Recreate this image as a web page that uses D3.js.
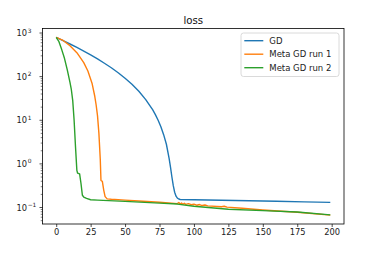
<!DOCTYPE html>
<html>
<head>
<meta charset="utf-8">
<title>loss</title>
<script src="https://cdn.jsdelivr.net/npm/d3@7"></script>
<style>
  body { margin: 0; background: #fff; overflow: hidden; }
  svg { font-family: "DejaVu Sans", sans-serif; }
</style>
</head>
<body>
<svg id="chart" width="371" height="253"></svg>
<script>
// values
const gdStep = [0, 5, 10, 15, 20, 25, 30, 35, 40, 45, 50, 55, 60, 65, 70, 72, 74, 76, 78, 80, 82, 83, 84, 85, 86, 87, 88, 89, 90, 100, 120, 140, 160, 180, 199];
const gdLoss = [794, 668, 560, 466, 385, 315, 255, 203, 160, 123, 92.0, 66.7, 46.1, 29.8, 17.5, 13.5, 10.0, 7.08, 4.68, 2.82, 1.32, 0.832, 0.501, 0.316, 0.224, 0.182, 0.164, 0.157, 0.153, 0.151, 0.147, 0.143, 0.139, 0.135, 0.131];

const run1Step = [0, 5, 10, 15, 20, 23, 26, 28, 29, 30, 31, 32, 32.5, 33.5, 34.5, 35.5, 37, 40, 50, 60, 75, 88, 89, 90, 91, 92, 93, 94, 96, 98, 100, 102, 104, 106, 108, 110, 120, 122, 124, 135, 150, 175, 199];
const run1Loss = [794, 676, 513, 355, 209, 135, 70.8, 35.5, 22.4, 12.6, 5.0, 1.26, 0.417, 0.398, 0.251, 0.178, 0.158, 0.155, 0.148, 0.141, 0.132, 0.123, 0.13, 0.12, 0.127, 0.119, 0.125, 0.118, 0.123, 0.116, 0.119, 0.113, 0.117, 0.111, 0.114, 0.109, 0.104, 0.107, 0.102, 0.096, 0.088, 0.078, 0.067];

const run2Step = [0, 2, 4, 6, 8, 10, 11, 12, 13, 14, 15, 15.5, 17, 18, 19, 20, 22, 25, 30, 50, 75, 88, 100, 125, 150, 175, 199];
const run2Loss = [794, 631, 417, 263, 145, 74.1, 50.1, 28.2, 10, 2.51, 0.708, 0.617, 0.589, 0.355, 0.191, 0.174, 0.162, 0.151, 0.148, 0.138, 0.126, 0.12, 0.107, 0.091, 0.085, 0.079, 0.068];

const seriesNames = ["GD", "Meta GD run 1", "Meta GD run 2"];
const colors = ["#1f77b4", "#ff7f0e", "#2ca02c"];
const xTicks = [0, 25, 50, 75, 100, 125, 150, 175, 200];
const yTickExp = [-1, 0, 1, 2, 3];

const series = [
  { name: seriesNames[0], color: colors[0], pts: gdStep.map((s, i) => [s, gdLoss[i]]) },
  { name: seriesNames[1], color: colors[1], pts: run1Step.map((s, i) => [s, run1Loss[i]]) },
  { name: seriesNames[2], color: colors[2], pts: run2Step.map((s, i) => [s, run2Loss[i]]) }
];

const svg = d3.select('#chart');
const plotLeft = 42.5, plotRight = 344, plotTop = 28.5, plotBottom = 224;

// matplotlib style 5% margins
const allX = series.flatMap(s => s.pts.map(p => p[0]));
const allY = series.flatMap(s => s.pts.map(p => Math.log10(p[1])));
const xMin = d3.min(allX), xMax = d3.max(allX);
const xPad = (xMax - xMin) * 0.05;
const lMin = d3.min(allY), lMax = d3.max(allY);
const lPad = (lMax - lMin) * 0.05;

const x = d3.scaleLinear().domain([xMin - xPad, xMax + xPad]).range([plotLeft, plotRight]);
const y = d3.scaleLog().domain([Math.pow(10, lMin - lPad), Math.pow(10, lMax + lPad)]).range([plotBottom, plotTop]);

// title
svg.append('text')
  .attr('x', (plotLeft + plotRight) / 2)
  .attr('y', 23.5)
  .attr('text-anchor', 'middle')
  .attr('font-size', '10.2px')
  .attr('fill', '#111')
  .text('loss');

const plot = svg.append('g');
plot.append('clipPath').attr('id', 'clip')
  .append('rect').attr('x', plotLeft).attr('y', plotTop).attr('width', plotRight - plotLeft).attr('height', plotBottom - plotTop);

const line = d3.line().x(d => x(d[0])).y(d => y(d[1]));

plot.append('g').attr('clip-path', 'url(#clip)')
  .selectAll('path')
  .data(series)
  .enter()
  .append('path')
  .attr('d', s => line(s.pts))
  .attr('fill', 'none')
  .attr('stroke', s => s.color)
  .attr('stroke-width', 1.4)
  .attr('stroke-linejoin', 'round');

// x axis
const xAxis = svg.append('g').attr('transform', `translate(0,${plotBottom})`)
  .call(d3.axisBottom(x).tickValues(xTicks).tickSize(3).tickPadding(2.5).tickFormat(d3.format('d')));
xAxis.select('.domain').remove();
xAxis.selectAll('line').attr('stroke', '#000').attr('stroke-width', 0.7);
xAxis.selectAll('text').attr('font-size', '8.3px').attr('fill', '#222').attr('font-family', '"DejaVu Sans", sans-serif');

// y axis: minor ticks
const [d0, d1] = y.domain();
const minor = [];
for (let e = Math.floor(Math.log10(d0)); e <= Math.ceil(Math.log10(d1)); e++) {
  for (let m = 2; m <= 9; m++) {
    const v = m * Math.pow(10, e);
    if (v >= d0 && v <= d1) minor.push(v);
  }
}
svg.append('g').selectAll('line').data(minor).enter().append('line')
  .attr('x1', plotLeft - 1.8).attr('x2', plotLeft)
  .attr('y1', d => y(d)).attr('y2', d => y(d))
  .attr('stroke', '#000').attr('stroke-width', 0.5);

svg.append('g').selectAll('line').data(yTickExp).enter().append('line')
  .attr('x1', plotLeft - 3).attr('x2', plotLeft)
  .attr('y1', d => y(Math.pow(10, d))).attr('y2', d => y(Math.pow(10, d)))
  .attr('stroke', '#000').attr('stroke-width', 0.7);

const yLab = svg.append('g').selectAll('text').data(yTickExp).enter().append('text')
  .attr('x', 16.5)
  .attr('y', d => y(Math.pow(10, d)) + 3.2)
  .attr('font-size', '8.3px')
  .attr('fill', '#222');
yLab.append('tspan').text('10');
yLab.append('tspan')
  .attr('dy', -3.6)
  .attr('dx', 0.6)
  .attr('font-size', '5.9px')
  .text(d => d < 0 ? '\u2212' + (-d) : String(d));

// spines
svg.append('rect')
  .attr('x', plotLeft).attr('y', plotTop)
  .attr('width', plotRight - plotLeft).attr('height', plotBottom - plotTop)
  .attr('fill', 'none').attr('stroke', '#000').attr('stroke-width', 0.8);

// legend
const lg = svg.append('g').attr('transform', 'translate(241,33)');
lg.append('rect')
  .attr('width', 98).attr('height', 43.5)
  .attr('rx', 2.5)
  .attr('fill', 'rgba(255,255,255,0.8)')
  .attr('stroke', '#d0d0d0').attr('stroke-width', 0.8);
const item = lg.selectAll('g.item').data(series).enter().append('g')
  .attr('class', 'item')
  .attr('transform', (d, i) => `translate(0,${7.7 + i * 13.5})`);
item.append('line')
  .attr('x1', 3.3).attr('x2', 22.3)
  .attr('stroke', d => d.color).attr('stroke-width', 1.4);
item.append('text')
  .attr('x', 28.3).attr('y', 3)
  .attr('font-size', '8.5px')
  .attr('fill', '#222')
  .text(d => d.name);
</script>
</body>
</html>
